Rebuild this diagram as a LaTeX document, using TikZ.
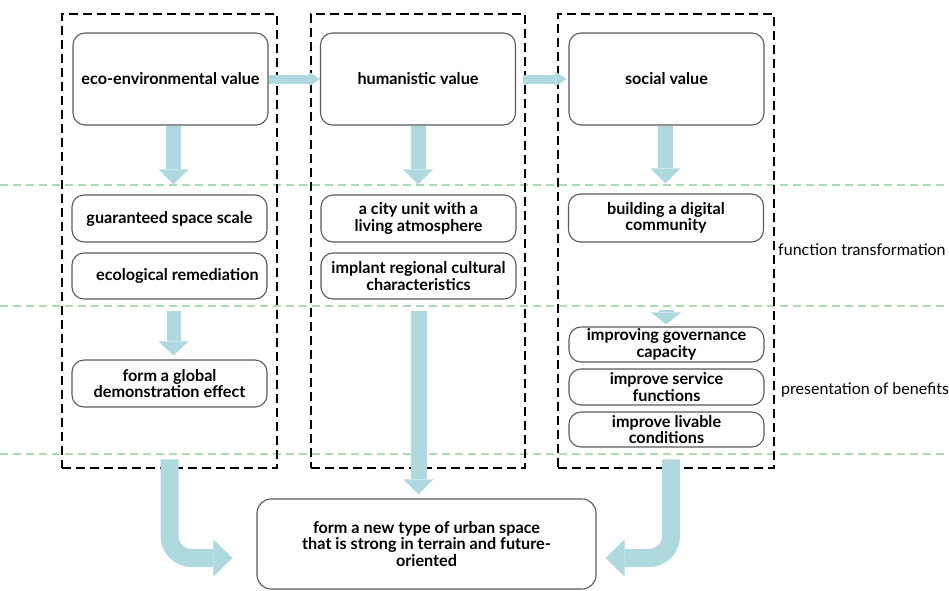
\documentclass[tikz,border=0pt]{standalone}
\usepackage{fontspec}
\setmainfont{Lato}
\usetikzlibrary{arrows.meta,calc}
\definecolor{arrowfill}{RGB}{174,217,222}
\definecolor{gridgreen}{RGB}{172,220,182}
\definecolor{boxline}{RGB}{90,90,90}
\tikzset{
  colbox/.style={draw=black, line width=2.9pt, dash pattern=on 9pt off 5pt, inner sep=0pt},
  valbox/.style={draw=boxline, line width=1.1pt, rounded corners=12pt, fill=white, align=center,
    font=\bfseries\fontsize{16.2}{16.6}\selectfont, inner sep=0pt, minimum width=195pt},
  gridline/.style={draw=gridgreen, line width=1.4pt, dash pattern=on 8pt off 5pt},
  blk/.style n args={3}{draw=arrowfill, line width=#1, -{Triangle[width=#2,length=#3,line width=0pt]}},
  sidelabel/.style={anchor=west, inner sep=0pt, font=\fontsize{16}{18}\selectfont}
}
\begin{document}
\begin{tikzpicture}[x=1pt,y=-1pt]
\useasboundingbox (0,0) rectangle (949,590);
% horizontal guide lines
\draw[gridline] (0,185) -- (949,185);
\draw[gridline] (0,306) -- (949,306);
\draw[gridline] (0,454) -- (949,454);
% column frames
\node[colbox, minimum width=215pt, minimum height=454pt] (colL) at (169.5,241) {};
\node[colbox, minimum width=214pt, minimum height=454pt] (colM) at (418,241) {};
\node[colbox, minimum width=216pt, minimum height=454pt] (colR) at (666,241) {};
% value boxes
\node[valbox, minimum height=92pt] (eco) at (170.5,79) {eco-environmental value};
\node[valbox, minimum height=92pt] (hum) at (418,79) {humanistic value};
\node[valbox, minimum height=92pt] (soc) at (666.5,79) {social value};
% left column
\node[valbox, minimum height=47pt] (gss) at (169.5,218.5) {guaranteed space scale};
\node[valbox, minimum height=46pt] (rem) at (169.5,276) {\hspace*{16pt}ecological remediation};
\node[valbox, minimum height=47pt] (glob) at (169.5,383.5) {form a global\\demonstration effect};
% middle column
\node[valbox, minimum height=47pt] (city) at (418.5,218.5) {a city unit with a\\living atmosphere};
\node[valbox, minimum height=46pt] (impl) at (418.5,276) {implant regional cultural\\characteristics};
% right column
\node[valbox, minimum height=48pt] (dig) at (666,218) {building a digital\\community};
\node[valbox, minimum height=35pt] (gov) at (666.5,344.5) {improving governance\\capacity};
\node[valbox, minimum height=36pt] (serv) at (666.5,387) {improve service\\functions};
\node[valbox, minimum height=35pt] (liv) at (666.5,429.5) {improve livable\\conditions};
% final box
\node[valbox, minimum width=339pt, minimum height=90pt, rounded corners=14pt] (final) at (426.5,544)
  {form a new type of urban space\\that is strong in terrain and future-\\oriented};
% side labels
\node[sidelabel] (ft) at (778,250) {function transformation};
\node[sidelabel] (pb) at (781,390) {presentation of benefits};
% horizontal arrows
\draw[blk={9pt}{15pt}{11pt}] (eco.east) -- (hum.west);
\draw[blk={9pt}{15pt}{11pt}, shorten <=7pt, shorten >=2pt] (hum.east) -- (soc.west);
% downward arrows
\draw[blk={15pt}{30pt}{15pt}, shorten >=10pt] ([xshift=3pt]eco.south) -- ([xshift=3pt]eco.south |- gss.north);
\draw[blk={15pt}{30pt}{15pt}, shorten >=10pt] (hum.south) -- (hum.south |- city.north);
\draw[blk={15pt}{30pt}{15pt}, shorten >=10pt] ([xshift=-1pt]soc.south) -- ([xshift=-1pt]soc.south |- dig.north);
\draw[blk={14pt}{30pt}{14pt}, shorten <=11pt, shorten >=4pt] ([xshift=4pt]rem.south) -- ([xshift=4pt]rem.south |- glob.north);
\draw[blk={16pt}{30pt}{15pt}, shorten <=11pt, shorten >=4pt] (impl.south) -- (impl.south |- final.north);
\draw[blk={15pt}{30pt}{12pt}, shorten <=67pt, shorten >=2pt] (dig.south) -- (dig.south |- gov.north);
% bent arrows into the final box
\draw[blk={18pt}{37pt}{19pt}, rounded corners=22pt, shorten >=24pt]
  ([yshift=10pt]colL.south) |- ([yshift=-14pt]final.west);
\draw[blk={18pt}{37pt}{19pt}, rounded corners=22pt, shorten >=9pt]
  ([xshift=5pt,yshift=10pt]colR.south) |- ([yshift=-14pt]final.east);
\end{tikzpicture}
\end{document}
